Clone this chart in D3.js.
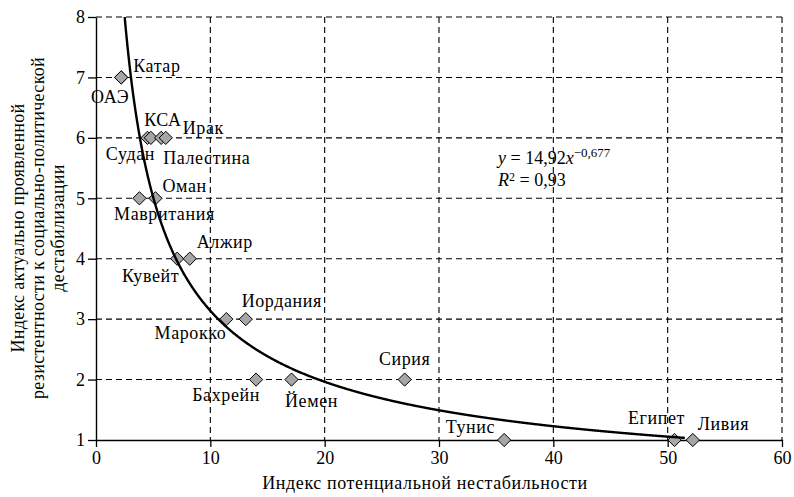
<!DOCTYPE html>
<html>
<head>
<meta charset="utf-8">
<script src="https://cdn.jsdelivr.net/npm/d3@7"></script>
<style>
  html, body { margin: 0; padding: 0; background: #fff; }
</style>
</head>
<body>
<svg id="chart" width="794" height="497"></svg>
<script>
// Countries: potential instability index (x) vs. resistance index (y)
const countries = ["ОАЭ", "Катар", "Судан", "КСА", "Палестина", "Ирак", "Мавритания", "Оман",
  "Кувейт", "Алжир", "Марокко", "Иордания", "Бахрейн", "Йемен", "Сирия", "Тунис", "Египет", "Ливия"];
const instability = [2.2, 2.2, 4.5, 4.8, 5.7, 6.1, 3.8, 5.2,
  7.1, 8.2, 11.4, 13.1, 14.0, 17.1, 27.0, 35.7, 50.6, 52.2];
const resistance = [7, 7, 6, 6, 6, 6, 5, 5,
  4, 4, 3, 3, 2, 2, 2, 1, 1, 1];

const xTicks = [0, 10, 20, 30, 40, 50, 60];
const yTicks = [1, 2, 3, 4, 5, 6, 7, 8];

// Power trend y = a * x^b
const trendA = 14.92;
const trendB = -0.677;
const trendR2 = 0.93;
const trendXEnd = 51.5;

const xTitle = "Индекс потенциальной нестабильности";
const yTitle = ["Индекс актуально проявленной", "резистентности к социально-политической", "дестабилизации"];

// Label placement relative to each marker: [dx, dy, anchor]
const labelOffset = {
  "ОАЭ": [-11, 26, "middle"], "Катар": [12, -5, "start"], "Судан": [-17, 22, "middle"],
  "КСА": [12, -12, "middle"], "Палестина": [2, 26, "start"], "Ирак": [17, -4, "start"],
  "Мавритания": [25, 22, "middle"], "Оман": [7, -6, "start"], "Кувейт": [2, 23, "end"],
  "Алжир": [7, -11, "start"], "Марокко": [0, 20, "end"], "Иордания": [36, -12, "middle"],
  "Бахрейн": [-30, 21, "middle"], "Йемен": [20, 27, "middle"], "Сирия": [0, -15, "middle"],
  "Тунис": [-9, -7, "end"], "Египет": [-18, -16, "middle"], "Ливия": [5, -10, "start"]
};

const FONT = "'Liberation Serif', 'Times New Roman', Tinos, 'DejaVu Serif', serif";

const svg = d3.select("#chart");
const plotL = 96, plotR = 782, plotT = 17, plotB = 440;

const x = d3.scaleLinear().domain([0, 60]).range([plotL, plotR]);
const y = d3.scaleLinear().domain([1, 8]).range([plotB, plotT]);

// Dashed grid
const grid = svg.append("g").attr("stroke", "#000").attr("stroke-width", 1.1)
  .attr("stroke-dasharray", "6,4");
grid.selectAll("line.v").data(xTicks.filter(d => d > 0)).join("line")
  .attr("class", "v")
  .attr("x1", d => x(d)).attr("x2", d => x(d))
  .attr("y1", y(8)).attr("y2", y(1));
grid.selectAll("line.h").data(yTicks.filter(d => d > 1)).join("line")
  .attr("class", "h")
  .attr("x1", x(0)).attr("x2", x(60))
  .attr("y1", d => y(d)).attr("y2", d => y(d));

// Axes
const xAxis = svg.append("g").attr("transform", `translate(0,${plotB})`)
  .call(d3.axisBottom(x).tickValues(xTicks).tickFormat(d3.format("d"))
    .tickSize(7).tickPadding(4).tickSizeOuter(0));
const yAxis = svg.append("g").attr("transform", `translate(${plotL},0)`)
  .call(d3.axisLeft(y).tickValues(yTicks).tickFormat(d3.format("d"))
    .tickSize(8).tickPadding(3).tickSizeOuter(0));
[xAxis, yAxis].forEach(g => {
  g.attr("font-family", null).attr("font-size", null);
  g.select(".domain").attr("stroke", "#000").attr("stroke-width", 1.4);
  g.selectAll(".tick line").attr("stroke", "#000").attr("stroke-width", 1.3);
  g.selectAll(".tick text").style("font-family", FONT).style("font-size", "18px").attr("fill", "#000");
});

// Markers
const pts = countries.map((c, i) => ({ name: c, x: instability[i], y: resistance[i] }));
const diamond = d3.symbol().type(d3.symbolDiamond2).size(112);
svg.append("g").selectAll("path").data(pts).join("path")
  .attr("d", diamond)
  .attr("transform", d => `translate(${x(d.x)},${y(d.y)})`)
  .attr("fill", "#a6a6a6").attr("stroke", "#000").attr("stroke-width", 1);

// Trend curve
svg.append("clipPath").attr("id", "plotClip").append("rect")
  .attr("x", plotL).attr("y", plotT).attr("width", plotR - plotL).attr("height", plotB - plotT);
const xs = d3.range(1.5, trendXEnd, 0.05).concat([trendXEnd]);
svg.append("path")
  .datum(xs.map(v => [v, trendA * Math.pow(v, trendB)]))
  .attr("clip-path", "url(#plotClip)")
  .attr("fill", "none").attr("stroke", "#000").attr("stroke-width", 2.4)
  .attr("d", d3.line().x(d => x(d[0])).y(d => y(d[1])));

// Country labels
svg.append("g").selectAll("text").data(pts).join("text")
  .attr("x", d => x(d.x) + labelOffset[d.name][0])
  .attr("y", d => y(d.y) + labelOffset[d.name][1])
  .attr("text-anchor", d => labelOffset[d.name][2])
  .style("font-family", FONT).style("font-size", "18px").style("letter-spacing", "0.6px")
  .text(d => d.name);

// Equation
const eq = svg.append("text").attr("x", 498).attr("y", 164)
  .style("font-family", FONT).style("font-size", "18px");
eq.append("tspan").attr("font-style", "italic").text("y");
eq.append("tspan").text(" = " + d3.format(".2f")(trendA).replace(".", ","));
eq.append("tspan").attr("font-style", "italic").text("x");
eq.append("tspan").style("font-size", "13px").attr("dy", -7).text("−" + String(-trendB).replace(".", ","));
const r2 = svg.append("text").attr("x", 498).attr("y", 186)
  .style("font-family", FONT).style("font-size", "18px");
r2.append("tspan").attr("font-style", "italic").text("R");
r2.append("tspan").style("font-size", "12px").attr("dy", -5).text("2");
r2.append("tspan").attr("dy", 5).text(" = " + String(trendR2).replace(".", ","));

// Axis titles
svg.append("text").attr("x", 425).attr("y", 489).attr("text-anchor", "middle")
  .style("font-family", FONT).style("font-size", "18px").style("letter-spacing", "0.6px")
  .text(xTitle);
const yt = svg.append("text").attr("text-anchor", "middle")
  .attr("transform", `translate(0,228) rotate(-90)`)
  .style("font-family", FONT).style("font-size", "18px").style("letter-spacing", "0.3px");
yTitle.forEach((line, i) => {
  yt.append("tspan").attr("x", 0).attr("y", 24 + i * 20).text(line);
});
</script>
</body>
</html>
